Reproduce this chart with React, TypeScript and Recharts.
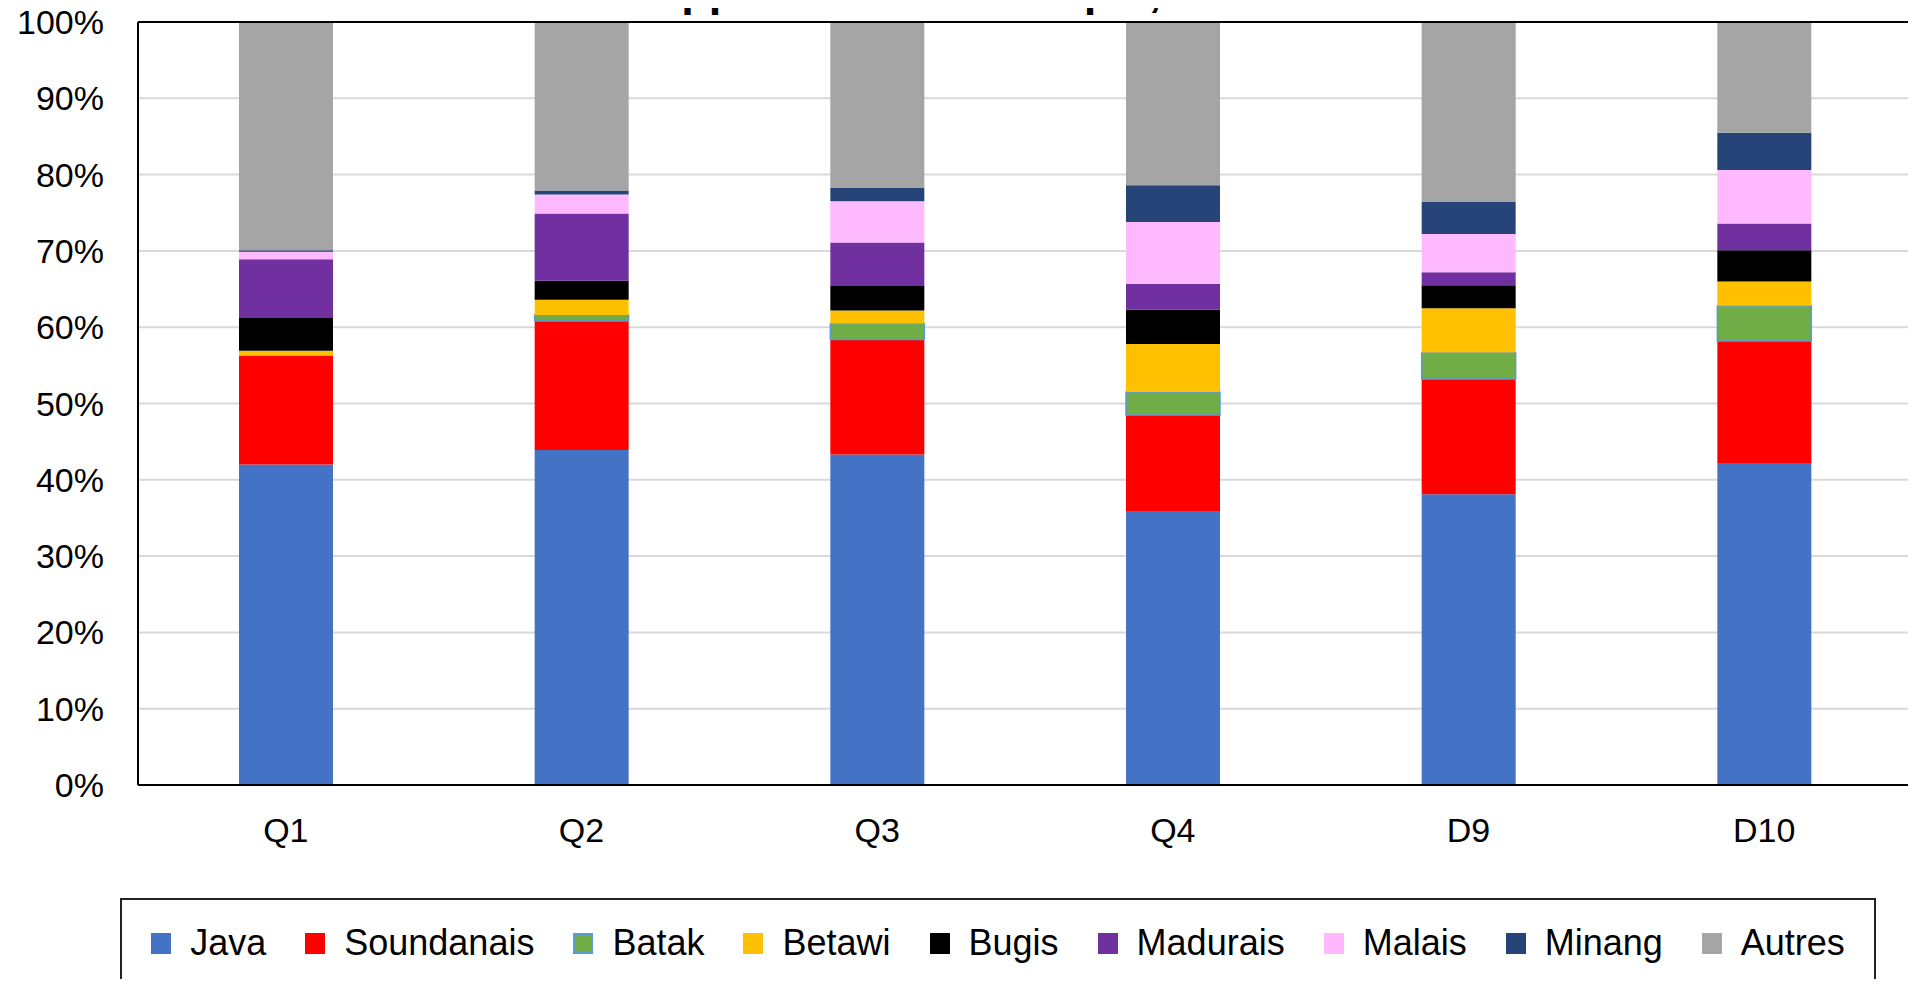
import React from 'react';
import { BarChart, Bar, XAxis, YAxis, CartesianGrid, Legend, ReferenceLine } from 'recharts';

const categories = ['Q1', 'Q2', 'Q3', 'Q4', 'D9', 'D10'];

// share of each group per income bracket (%)
const java = [42.0, 43.9, 43.3, 35.8, 38.1, 42.2];
const soundanais = [14.3, 16.9, 15.1, 12.7, 15.1, 16.0];
const batak = [0.0, 0.8, 2.1, 3.0, 3.5, 4.6];
const betawi = [0.6, 2.0, 1.7, 6.3, 5.8, 3.2];
const bugis = [4.3, 2.5, 3.2, 4.5, 3.0, 4.1];
const madurais = [7.7, 8.8, 5.7, 3.4, 1.7, 3.5];
const malais = [1.0, 2.5, 5.4, 8.1, 5.0, 7.0];
const minang = [0.2, 0.5, 1.8, 4.8, 4.2, 4.9];
const autres = [29.9, 22.1, 21.7, 21.4, 23.6, 14.5];

const yTicks = [0, 10, 20, 30, 40, 50, 60, 70, 80, 90, 100];

const title = "Distribution de l'appartenance ethnique, selon le revenu";

const series = [
  { key: 'Java', values: java, color: '#4472C4' },
  { key: 'Soundanais', values: soundanais, color: '#FF0000' },
  { key: 'Batak', values: batak, color: '#70AD47', stroke: '#5B9BD5' },
  { key: 'Betawi', values: betawi, color: '#FFC000' },
  { key: 'Bugis', values: bugis, color: '#000000' },
  { key: 'Madurais', values: madurais, color: '#7030A0' },
  { key: 'Malais', values: malais, color: '#FFB9FF' },
  { key: 'Minang', values: minang, color: '#264478' },
  { key: 'Autres', values: autres, color: '#A5A5A5' },
];

const data = categories.map((name, i) => {
  const row: Record<string, any> = { name };
  series.forEach(s => { row[s.key] = s.values[i]; });
  return row;
});

const FONT = '"Liberation Sans", Arial, sans-serif';

const renderLegend = () => (
  <div style={{ boxSizing: 'border-box', height: 110, border: '2px solid #222', background: '#fff' }}>
    <div style={{ height: 86, display: 'flex', alignItems: 'center', justifyContent: 'center', gap: 39 }}>
      {series.map(s => (
        <span key={s.key} style={{ display: 'flex', alignItems: 'center', fontFamily: FONT, fontSize: 36, color: '#000' }}>
          <span style={{
            display: 'inline-block', width: 20, height: 21, marginRight: 19, background: s.color,
            boxSizing: 'border-box', border: s.stroke ? `2px solid ${s.stroke}` : 'none',
          }} />
          {s.key}
        </span>
      ))}
    </div>
  </div>
);

export default function App() {
  return (
    <div style={{ position: 'relative', margin: -8, width: 1916, height: 987, overflow: 'hidden', background: '#fff' }}>
      <BarChart
        width={1916}
        height={1010}
        data={data}
        margin={{ top: 22, right: 3, left: 8, bottom: 55 }}
        barSize={94}
      >
        <CartesianGrid vertical={false} stroke="#D9D9D9" strokeWidth={2} />
        <XAxis
          dataKey="name"
          height={60}
          tickLine={false}
          tickMargin={27}
          axisLine={{ stroke: '#000', strokeWidth: 2 }}
          tick={{ fill: '#000', fontSize: 34, fontFamily: FONT }}
        />
        <YAxis
          width={130}
          domain={[0, 100]}
          ticks={yTicks}
          interval={0}
          allowDataOverflow
          tickLine={false}
          tickMargin={28}
          tickFormatter={(v: number) => `${v}%`}
          axisLine={{ stroke: '#000', strokeWidth: 2 }}
          tick={{ fill: '#000', fontSize: 34, fontFamily: FONT }}
        />
        <YAxis
          yAxisId="right"
          orientation="right"
          width={1}
          domain={[0, 100]}
          tick={false}
          tickLine={false}
          axisLine={{ stroke: '#404040', strokeWidth: 1.5 }}
        />
        <Legend
          verticalAlign="bottom"
          wrapperStyle={{ left: 120, top: 898, bottom: 'auto', width: 1756 }}
          content={renderLegend}
        />
        {series.map(s => (
          <Bar
            key={s.key}
            dataKey={s.key}
            stackId="a"
            fill={s.color}
            stroke={s.stroke || 'none'}
            strokeWidth={s.stroke ? 1.5 : 0}
            isAnimationActive={false}
          />
        ))}
        <ReferenceLine y={100} stroke="#000" strokeWidth={2} />
      </BarChart>
      {/* title sits mostly above the visible area, only descenders show */}
      <div style={{
        position: 'absolute', left: 303, top: -32, zIndex: 5, whiteSpace: 'nowrap',
        fontFamily: FONT, fontWeight: 'bold', fontSize: 45, lineHeight: '45px', color: '#000',
      }}>
        {title}
      </div>
    </div>
  );
}
